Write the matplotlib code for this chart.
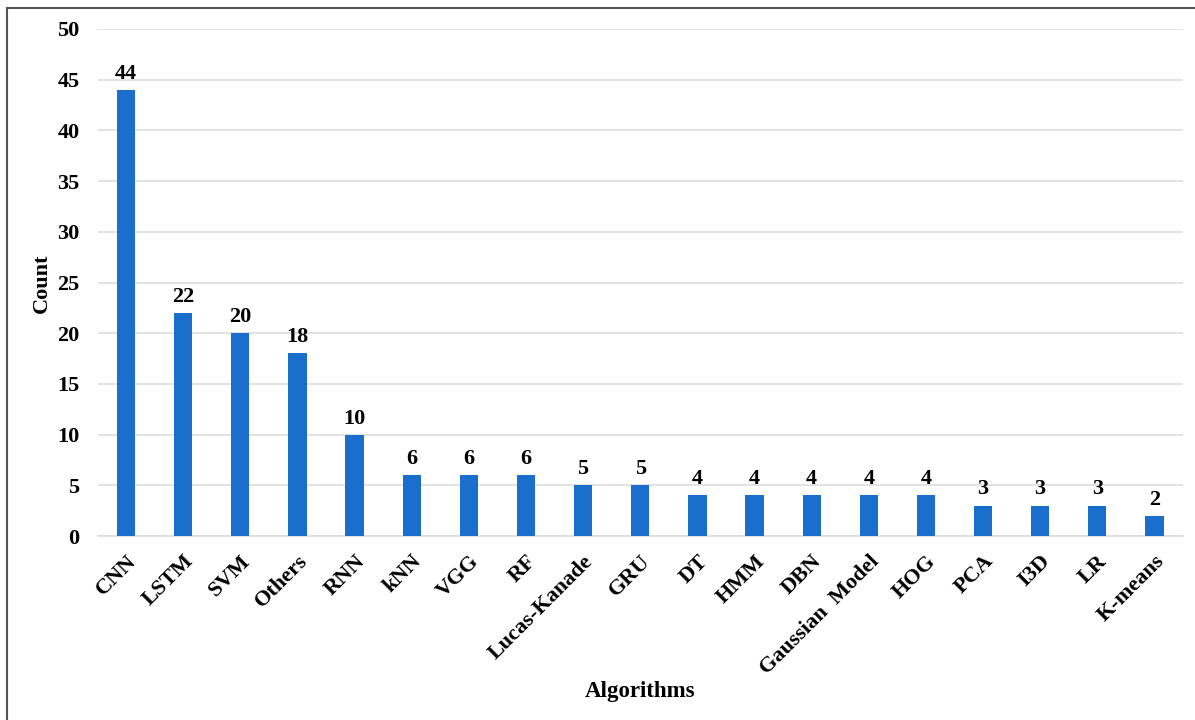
import matplotlib
matplotlib.use("Agg")
import matplotlib.pyplot as plt
from matplotlib.lines import Line2D

categories = ["CNN", "LSTM", "SVM", "Others", "RNN", "kNN", "VGG", "RF", "Lucas-Kanade",
              "GRU", "DT", "HMM", "DBN", "Gaussian  Model", "HOG", "PCA", "I3D", "LR", "K-means"]
counts = [44, 22, 20, 18, 10, 6, 6, 6, 5, 5, 4, 4, 4, 4, 4, 3, 3, 3, 2]
yticks = [0, 5, 10, 15, 20, 25, 30, 35, 40, 45, 50]

plt.rcParams['font.family'] = ['Liberation Serif', 'DejaVu Serif']
plt.rcParams['font.weight'] = 'bold'

fig = plt.figure(figsize=(11.95, 7.2), dpi=100)
ax = fig.add_axes([97.5/1195, 1-536/720, (1183-97.5)/1195, (536-29)/720])

x = list(range(len(categories)))
bars = ax.bar(x, counts, width=0.32, color='#1a6fcc', zorder=3)
for xi, v in zip(x, counts):
    ax.text(xi, v + 0.6, str(v), ha='center', va='bottom', fontsize=16, fontweight='bold')

ax.set_xlim(-0.5, len(categories) - 0.5)
ax.set_ylim(0, 50)
ax.set_yticks(yticks)
ax.set_yticklabels([str(t) for t in yticks], fontsize=16, fontweight='bold')
ax.set_xticks(x)
ax.set_xticklabels(categories, rotation=45, ha='right', rotation_mode='anchor',
                   fontsize=16, fontweight='bold')
ax.tick_params(axis='y', length=0, pad=13)
ax.tick_params(axis='x', length=0, pad=11)
ax.grid(axis='y', color='#dddddd', linewidth=1.2, zorder=0)
for s in ['top', 'right', 'left']:
    ax.spines[s].set_visible(False)
ax.spines['bottom'].set_color('#dddddd')
ax.spines['bottom'].set_linewidth(1.2)

fig.text(42/1195, 1-283/720, 'Count', rotation=90, ha='center', va='center',
         fontsize=16, fontweight='bold')
fig.text(640/1195, 1-691/720, 'Algorithms', ha='center', va='center',
         fontsize=16.5, fontweight='bold')

# figure frame (top and left)
fig.add_artist(Line2D([7/1195, 1], [1-8/720, 1-8/720], color='#555555', linewidth=1.5,
                      transform=fig.transFigure))
fig.add_artist(Line2D([7/1195, 7/1195], [0, 1-8/720], color='#555555', linewidth=1.5,
                      transform=fig.transFigure))

fig.savefig('out.png', dpi=100, facecolor='white')
